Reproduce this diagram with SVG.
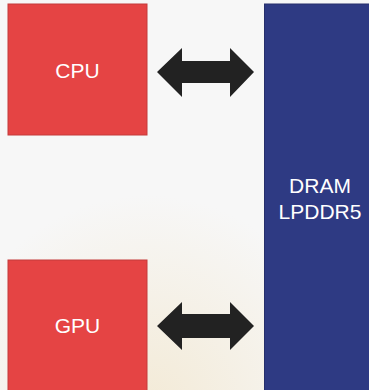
<svg xmlns="http://www.w3.org/2000/svg" width="369" height="390" viewBox="0 0 369 390">
<defs>
<radialGradient id="bg" cx="0.4" cy="1.05" r="0.55">
<stop offset="0" stop-color="#f3ead6"/>
<stop offset="1" stop-color="#f7f7f7"/>
</radialGradient>
<style>
.chip{fill:#e54444;stroke:#c43a3a;stroke-width:1}
.mem{fill:#2e3a83;stroke:#262f6c;stroke-width:1}
.lbl{font-family:"Liberation Sans",Arial,sans-serif;font-size:21px;fill:#ffffff;text-anchor:middle}
.arr{fill:#222222}
</style>
</defs>
<rect width="369" height="390" fill="url(#bg)"/>
<g id="cpu">
<rect class="chip" x="8" y="4" width="139" height="131"/>
<text class="lbl" x="77.5" y="78">CPU</text>
</g>
<g id="gpu">
<rect class="chip" x="8" y="260" width="139" height="131"/>
<text class="lbl" x="77.5" y="333">GPU</text>
</g>
<g id="dram">
<rect class="mem" x="264.5" y="4" width="105" height="387"/>
<text class="lbl" x="320" y="193">DRAM</text>
<text class="lbl" x="320" y="219">LPDDR5</text>
</g>
<g id="connectors">
<polygon class="arr" points="157,72 182,48 182,61 230,61 230,48 254,72 230,97 230,83 182,83 182,97"/>
<polygon class="arr" points="157,326 182,302 182,314 230,314 230,302 254,326 230,350 230,338 182,338 182,350"/>
</g>
</svg>
